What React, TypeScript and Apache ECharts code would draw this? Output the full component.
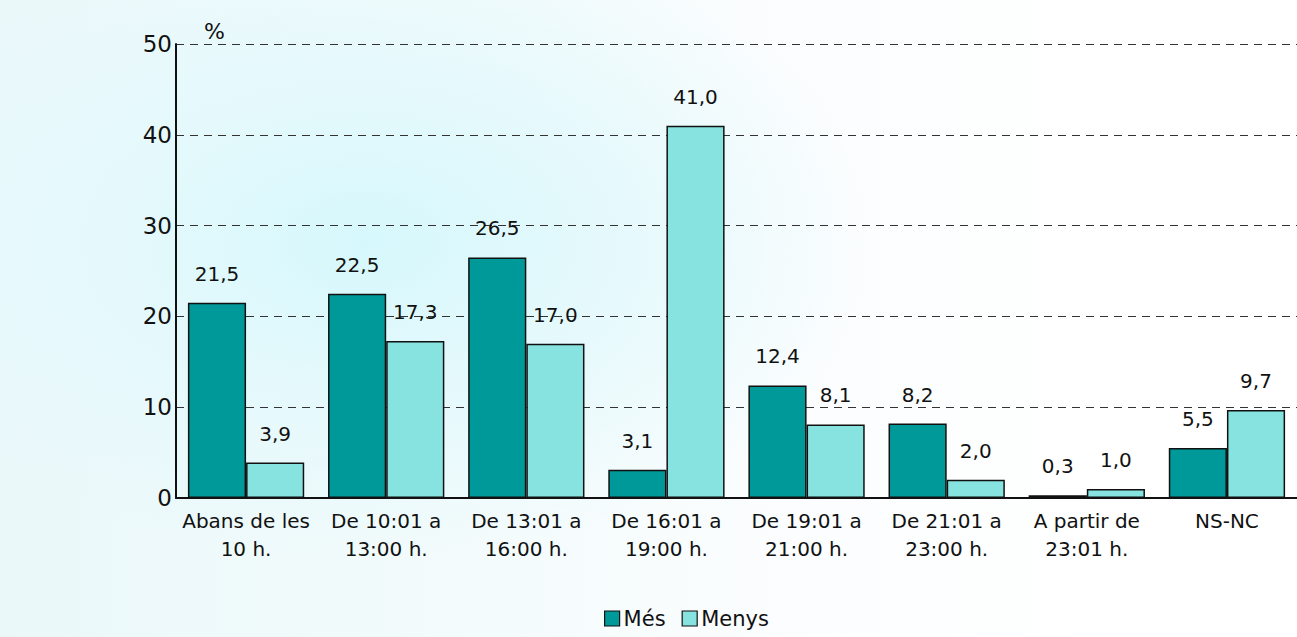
import React, { useEffect, useRef } from "react";
import * as echarts from "echarts";

const categories = [
  "Abans de les\n10 h.",
  "De 10:01 a\n13:00 h.",
  "De 13:01 a\n16:00 h.",
  "De 16:01 a\n19:00 h.",
  "De 19:01 a\n21:00 h.",
  "De 21:01 a\n23:00 h.",
  "A partir de\n23:01 h.",
  "NS-NC",
];
const mesValues = [21.5, 22.5, 26.5, 3.1, 12.4, 8.2, 0.3, 5.5];
const menysValues = [3.9, 17.3, 17.0, 41.0, 8.1, 2.0, 1.0, 9.7];
const seriesNames = ["Més", "Menys"];

const FONT = "DejaVu Sans";

export default function App() {
  const ref = useRef<HTMLDivElement>(null);
  useEffect(() => {
    if (!ref.current) return;
    const chart = echarts.init(ref.current, undefined, { renderer: "svg" });
    const label = {
      show: true,
      position: "top" as const,
      distance: 19,
      color: "#111",
      fontFamily: FONT,
      fontSize: 20,
      formatter: (p: any) => Number(p.value).toFixed(1).replace(".", ","),
    };
    chart.setOption({
      animation: false,
      textStyle: { fontFamily: FONT },
      grid: { left: 176, right: 0, top: 44, bottom: 139 },
      legend: {
        top: 603,
        left: 599,
        itemWidth: 15,
        itemHeight: 15,
        itemGap: 16,
        icon: "rect",
        textStyle: { fontFamily: FONT, fontSize: 21, color: "#111", padding: [0, 0, 0, -1] },
        data: seriesNames.map((n) => ({
          name: n,
          itemStyle: { borderColor: "#111", borderWidth: 1.2 },
        })),
      },
      xAxis: {
        type: "category",
        data: categories,
        axisLine: { show: true, lineStyle: { color: "#111", width: 2 } },
        axisTick: { show: false },
        axisLabel: {
          color: "#111",
          fontFamily: FONT,
          fontSize: 20,
          lineHeight: 28,
          margin: 9,
          interval: 0,
        },
      },
      yAxis: {
        type: "value",
        min: 0,
        max: 50,
        interval: 10,
        name: "%",
        nameLocation: "end",
        nameGap: 2,
        nameTextStyle: { fontFamily: FONT, fontSize: 22, color: "#111", align: "left", padding: [0, 0, 0, 28] },
        axisLine: { show: true, lineStyle: { color: "#111", width: 2 } },
        axisTick: { show: false },
        axisLabel: { color: "#111", fontFamily: FONT, fontSize: 23, margin: 4 },
        splitLine: { show: true, lineStyle: { color: "#333", type: [8, 6], width: 1 } },
      },
      series: [
        {
          name: seriesNames[0],
          type: "bar",
          data: mesValues,
          barGap: "0%",
          barCategoryGap: "17%",
          itemStyle: { color: "#009999", borderColor: "#111", borderWidth: 1.5 },
          label,
        },
        {
          name: seriesNames[1],
          type: "bar",
          data: menysValues,
          itemStyle: { color: "#86e3e0", borderColor: "#111", borderWidth: 1.5 },
          label,
        },
      ],
    });
    return () => chart.dispose();
  }, []);
  return (
    <div
      style={{
        position: "absolute",
        left: 0,
        top: 0,
        width: 1297,
        height: 637,
        background:
          "radial-gradient(ellipse 40% 50% at 28% 38%, #d6f8fc 0%, #e4f9fc 45%, rgba(255,255,255,0) 100%), linear-gradient(90deg, #eaf8fa 0%, #f3fbfc 35%, #fbfdfe 60%, #ffffff 85%)",
      }}
    >
      <div ref={ref} style={{ width: 1297, height: 637 }} />
    </div>
  );
}
